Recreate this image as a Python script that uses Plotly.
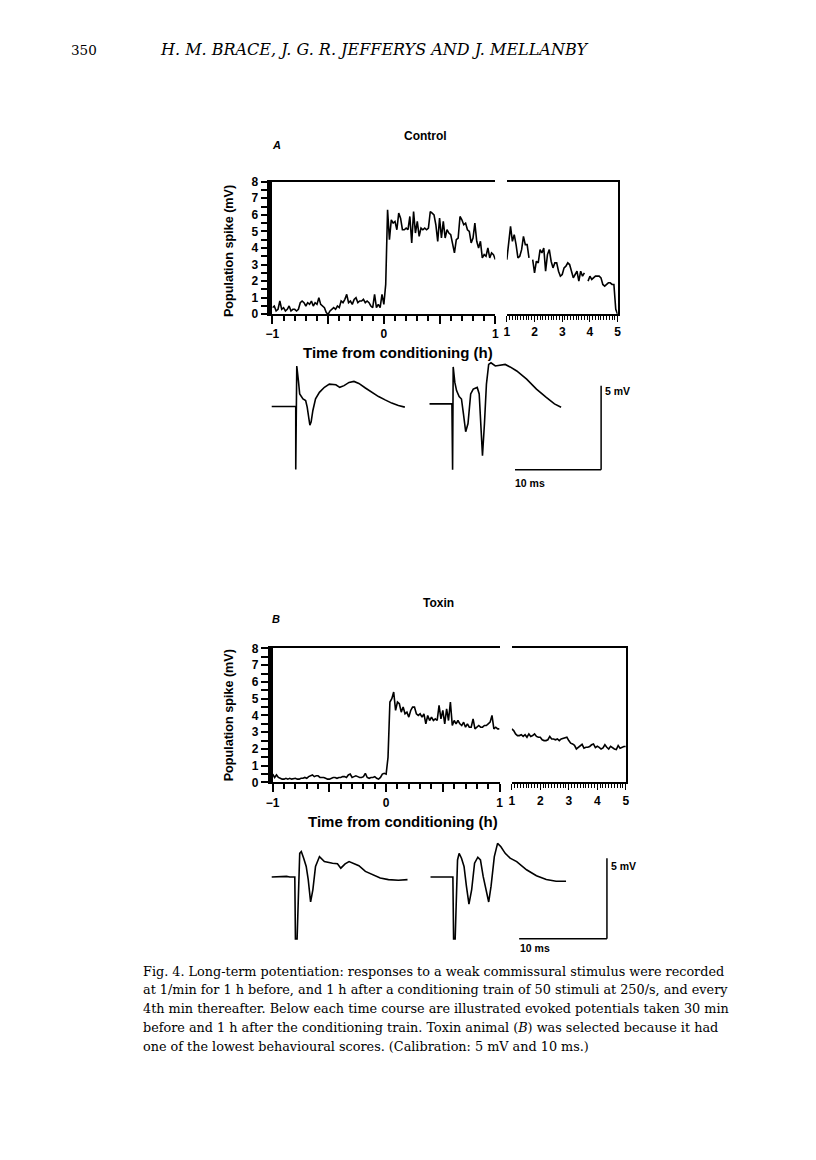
import plotly.graph_objects as go

# page is 816x1160; the html body adds an 8px margin, so the figure is a bit smaller
PAGE_W, PAGE_H = 816, 1160
OFF = 8
W, H = PAGE_W - 2 * OFF, PAGE_H - 2 * OFF

def fx(px):
    return (px - OFF) / W

def fy(py):
    return 1 - (py - OFF) / H

# ---- time course data (population spike, mV) ----
# 1/min for 1 h before and 1 h after conditioning (hours -1..1)
A_early = [0.4, 0.5, 0.2, 0.3, 0.8, 0.3, 0.4, 0.2, 0.3, 0.5, 0.2, 0.3, 0.3, 0.2, 0.3,
           0.7, 0.8, 0.7, 0.5, 0.7, 0.6, 0.8, 0.5, 0.7, 0.6, 1.0, 0.6, 0.5, 0.4, 0.1,
           0.0, 0.2, 0.3, 0.4, 0.3, 0.5, 0.4, 0.8, 0.7, 0.9, 1.2, 0.7, 0.8, 0.6, 0.9,
           1.0, 0.7, 0.8, 0.8, 0.9, 0.7, 0.8, 0.7, 0.5, 0.4, 1.2, 0.4, 0.6, 0.4, 1.2,
           0.6,
           1.8, 6.3, 4.5, 5.7, 5.5, 5.6, 5.1, 6.1, 5.8, 5.1, 5.1, 5.2, 5.1, 5.9, 4.3,
           6.2, 4.9, 5.6, 4.7, 5.2, 5.1, 5.2, 5.1, 5.2, 6.2, 6.1, 6.0, 5.4, 4.4, 5.8,
           4.6, 5.6, 4.6, 5.1, 4.9, 4.8, 4.2, 3.7, 4.5, 4.6, 5.9, 5.7, 5.4, 5.5, 5.1,
           5.0, 4.3, 4.6, 5.5, 4.4, 4.0, 4.4, 3.4, 3.6, 3.5, 4.0, 3.4, 3.7, 3.6, 3.3]
# every 4th min from 1 h to 5 h (None = missing samples)
A_late = [3.3, 4.2, 5.3, 4.4, 4.8, 4.2, 3.4, 3.5, 3.9, 4.7, 4.2, 4.2, 3.4, None,
          3.3, 2.5, 3.2, 3.1, 3.9, 3.7, 4.0, 2.6, 3.6, 3.9, 3.2, 2.8, 3.1, 3.1,
          2.6, 2.3, 2.4, 2.8, 2.9, 3.1, 3.0, 2.6, 2.2, 2.4, 2.6, 2.0, 2.6, 2.3,
          2.5, None, 2.0, 2.3, 2.1, 2.2, 2.3, 2.3, 2.3, 2.2, 1.8, 1.7, 1.8, 1.9,
          1.9, 1.8, 1.8, 0.3, 0.0]

B_early = [0.5, 0.3, 0.45, 0.3, 0.25, 0.2, 0.2, 0.25, 0.2, 0.25, 0.2, 0.22, 0.25, 0.2,
           0.2, 0.25, 0.25, 0.3, 0.25, 0.35, 0.4, 0.45, 0.35, 0.4, 0.4, 0.3, 0.3, 0.3,
           0.25, 0.2, 0.2, 0.25, 0.3, 0.3, 0.25, 0.3, 0.3, 0.35, 0.35, 0.3, 0.45, 0.5,
           0.3, 0.35, 0.4, 0.35, 0.3, 0.3, 0.35, 0.55, 0.3, 0.25, 0.3, 0.3, 0.35, 0.25,
           0.2, 0.3, 0.5, 0.55, 0.5,
           1.5, 4.8, 5.0, 5.4, 4.3, 4.8, 4.7, 4.2, 4.5, 4.1, 4.2, 3.9, 4.3, 4.5, 4.5,
           4.1, 4.0, 4.1, 3.9, 4.1, 3.5, 4.0, 3.7, 3.9, 3.7, 3.8, 3.7, 4.6, 3.8, 4.3,
           3.5, 4.4, 3.7, 4.8, 3.4, 3.7, 3.5, 3.7, 3.5, 3.4, 3.6, 3.3, 3.5, 3.3, 3.3,
           3.8, 3.2, 3.3, 3.4, 3.3, 3.3, 3.4, 3.4, 3.5, 3.6, 4.0, 3.2, 3.3, 3.2, 3.2]
B_late = [3.2, 3.1, 2.9, 2.8, 2.8, 2.85, 2.75, 2.85, 2.7, 2.9, 2.75, 2.8, 2.9, 2.75,
          2.7, 2.7, 2.55, 2.5, 2.5, 2.55, 2.75, 2.6, 2.6, 2.55, 2.6, 2.5, 2.6, 2.62,
          2.65, 2.7, 2.5, 2.35, 2.3, 2.22, 2.0, 2.1, 2.2, 2.28, 2.05, 2.1, 2.1, 2.15,
          2.25, 2.3, 2.08, 2.16, 2.1, 2.0, 2.06, 2.25, 2.1, 2.0, 2.16, 2.05, 2.0, 1.97,
          2.2, 2.05, 2.1, 2.15, 2.15]

# sample times in hours
t_early = [m / 60 for m in range(-60, 61)]
t_late = [1 + 4 * k / 60 for k in range(61)]

# ---- evoked potentials (time ms from sweep start, mV from baseline) ----
A1_t = [0, 2.79, 2.79, 2.91, 3.1, 3.25, 3.63, 3.94, 4.12, 4.28, 4.43, 4.58, 4.78, 5.09, 5.54,
        6.12, 6.69, 7.45, 7.9, 8.4, 8.98, 9.55, 10.12, 10.88, 11.65, 12.41, 13.17, 13.94,
        14.71, 15.46]
A1_v = [0, 0, -3.76, 2.41, 1.53, 0.74, 0.45, 0.35, -0.04, -0.73, -1.12, -0.92, -0.24, 0.45,
        0.84, 1.14, 1.33, 1.29, 1.14, 1.24, 1.43, 1.49, 1.37, 1.1, 0.84, 0.59, 0.39, 0.2,
        0.06, -0.04]
A2_t = [0, 2.6, 2.68, 2.75, 2.94, 3.14, 3.44, 3.71, 3.94, 4.2, 4.47, 4.78, 5.08, 5.54, 5.77,
        5.96, 6.15, 6.38, 6.61, 6.87, 7.14, 7.64, 8.21, 8.79, 9.36, 10.13, 11.28, 12.42,
        13.56, 14.51, 15.28]
A2_v = [0, 0, -3.92, 2.2, 1.28, 0.79, 0.43, 0.29, -0.59, -1.66, -1.17, 0.59, 0.88, 0.98,
        0.59, -1.17, -3.09, -1.17, 1.18, 2.35, 2.45, 2.26, 2.31, 2.35, 2.2, 1.96, 1.47, 0.88,
        0.39, 0.0, -0.2]
B1_t = [0, 1.69, 2.06, 2.63, 2.7, 2.89, 3.19, 3.37, 3.64, 3.93, 4.16, 4.43, 4.69, 4.99, 5.44,
        6.0, 6.93, 7.49, 7.87, 8.36, 8.81, 9.37, 9.93, 10.67, 11.43, 12.36, 13.3, 14.43, 15.47]
B1_v = [0, 0.04, 0, 0, -3.84, -3.84, 1.47, 1.58, 1.17, 0.66, -0.16, -1.55, -0.78, 0.66, 1.27,
        0.96, 0.86, 0.82, 0.55, 0.82, 0.96, 0.82, 0.7, 0.35, 0.15, -0.06, -0.16, -0.2, -0.16]
B2_t = [0, 2.25, 2.55, 2.63, 2.81, 3.08, 3.26, 3.53, 3.82, 4.09, 4.38, 4.69, 5.02, 5.39, 5.69,
        6.0, 6.37, 6.63, 6.9, 7.27, 7.64, 8.02, 8.51, 9.07, 9.82, 10.94, 12.07, 13.19, 14.31,
        15.44]
B2_v = [0, 0.04, 0, -3.84, -3.84, 1.06, 1.47, 1.17, 0.66, -0.57, -1.69, -0.78, 0.86, 1.23,
        1.06, 0.04, -0.98, -1.55, -0.57, 1.27, 2.09, 1.88, 1.47, 1.17, 0.96, 0.45, 0.08,
        -0.16, -0.26, -0.26]

# calibration bars
CAL_MS = 10
CAL_MV = 5

SANS = "Liberation Sans"
SERIF = "DejaVu Serif"
LW = 1.6

fig = go.Figure()
layout = dict(width=W, height=H, margin=dict(l=0, r=0, t=0, b=0),
              paper_bgcolor="white", plot_bgcolor="white", showlegend=False)
annotations = []
shapes = []


def add_panel(n, early, late, x0, x1, x2a, x2b, ybot, ytop):
    # n: axis index (panel uses axes n, n+1)
    xa, xb = "xaxis%d" % n, "xaxis%d" % (n + 1)
    ya, yb = "yaxis%d" % n, "yaxis%d" % (n + 1)
    tick_font = dict(family=SANS, size=12, color="black", weight="bold")
    layout[xa] = dict(domain=[fx(x0), fx(x1)], range=[-1, 1], anchor="y%d" % n,
                      showline=True, linewidth=1.5, linecolor="black", mirror=True,
                      showgrid=False, zeroline=False, ticks="outside", ticklen=8,
                      tickwidth=1.5, tickcolor="black",
                      tickvals=[-1, -0.5, 0, 0.5, 1], ticktext=["\u22121", "", "0", "", "1"],
                      tickfont=tick_font,
                      minor=dict(dtick=0.1, ticks="outside", ticklen=5, tickwidth=1.5,
                                 tickcolor="black", showgrid=False))
    layout[xb] = dict(domain=[fx(x2a), fx(x2b)], range=[1, 5], anchor="y%d" % (n + 1),
                      showline=True, linewidth=1.5, linecolor="black", mirror=True,
                      showgrid=False, zeroline=False, ticks="outside", ticklen=6,
                      tickwidth=1.2, tickcolor="black", tickvals=[1, 2, 3, 4, 5],
                      tickfont=tick_font,
                      minor=dict(dtick=0.1, ticks="outside", ticklen=3.5, tickwidth=1,
                                 tickcolor="black", showgrid=False))
    layout[ya] = dict(domain=[fy(ybot), fy(ytop)], range=[0, 8], anchor="x%d" % n,
                      showline=True, linewidth=4.5, linecolor="black",
                      showgrid=False, zeroline=False, ticks="outside", ticklen=7,
                      tickwidth=1.5, tickcolor="black", tickvals=list(range(9)),
                      tickfont=tick_font,
                      minor=dict(dtick=0.5, ticks="outside", ticklen=7, tickwidth=1.5,
                                 tickcolor="black", showgrid=False))
    layout[yb] = dict(domain=[fy(ybot), fy(ytop)], range=[0, 8], anchor="x%d" % (n + 1),
                      side="right", showline=True, linewidth=1.5, linecolor="black",
                      showgrid=False, zeroline=False, showticklabels=False, ticks="")
    fig.add_trace(go.Scatter(x=t_early, y=early, mode="lines", xaxis="x%d" % n, yaxis="y%d" % n,
                             line=dict(color="black", width=LW), connectgaps=False))
    fig.add_trace(go.Scatter(x=t_late, y=late, mode="lines", xaxis="x%d" % (n + 1),
                             yaxis="y%d" % (n + 1),
                             line=dict(color="black", width=LW), connectgaps=False))


def add_sweeps(n, s1, s2, start1, start2, base1, base2, pxms, pxmv, cal_t, cal_v):
    # two sweeps, each on its own hidden axes with the same ms / mV scale
    t_lo, t_hi1, t_hi2 = -0.5, 16, 22
    v_lo, v_hi = -4.6, 3.2
    for k, (t, v), start, base, thi in [(n, s1, start1, base1, t_hi1),
                                          (n + 1, s2, start2, base2, t_hi2)]:
        layout["xaxis%d" % k] = dict(domain=[fx(start + t_lo * pxms), fx(start + thi * pxms)],
                                     range=[t_lo, thi], visible=False, anchor="y%d" % k)
        layout["yaxis%d" % k] = dict(domain=[fy(base - v_lo * pxmv), fy(base - v_hi * pxmv)],
                                     range=[v_lo, v_hi], visible=False, anchor="x%d" % k)
        fig.add_trace(go.Scatter(x=t, y=v, mode="lines", xaxis="x%d" % k, yaxis="y%d" % k,
                                 line=dict(color="black", width=LW)))
    k = n + 1
    shapes.append(dict(type="line", xref="x%d" % k, yref="y%d" % k, x0=cal_t - CAL_MS, x1=cal_t,
                       y0=cal_v, y1=cal_v, line=dict(color="black", width=1.5)))
    shapes.append(dict(type="line", xref="x%d" % k, yref="y%d" % k, x0=cal_t, x1=cal_t,
                       y0=cal_v, y1=cal_v + CAL_MV, line=dict(color="black", width=1.5)))


# panel A
add_panel(1, A_early, A_late, 269, 495, 506.7, 619, 311, 176.7)
add_sweeps(3, (A1_t, A1_v), (A2_t, A2_v), 268.3, 428.3, 404.3, 401.7, 8.73, 17.0, 19.93, -3.92)
# panel B
add_panel(5, B_early, B_late, 269.3, 499.3, 511.7, 627.3, 785, 649.3)
add_sweeps(7, (B1_t, B1_v), (B2_t, B2_v), 268.3, 429.3, 880.7, 880.7, 8.9, 16.3, 20.1, -3.84)


def text(s, x, y, size, family=SANS, weight="normal", style="normal", xanchor="center", angle=0):
    annotations.append(dict(text=s, x=fx(x), y=fy(y), xref="paper", yref="paper",
                            xanchor=xanchor, yanchor="middle", showarrow=False, textangle=angle,
                            borderpad=0,
                            font=dict(family=family, size=size, color="black",
                                      weight=weight, style=style)))


text("350", 64, 43, 13.5, family=SERIF, xanchor="left")
text("H. M. BRACE, J. G. R. JEFFERYS AND J. MELLANBY", 154, 43, 16, family=SERIF,
     style="italic", xanchor="left")

for label, title, tx, ttl_y, lab_y, ycen, xt_x, xt_y in [
        ("A", "Control", 424, 131, 140, 247, 396, 350),
        ("B", "Toxin", 437, 603, 619, 717, 401, 824)]:
    text(title, tx, ttl_y, 12, weight="bold")
    text(label, 273, lab_y, 11, weight="bold", style="italic")
    text("Population spike (mV)", 225, ycen, 12.6, weight="bold", angle=-90)
    text("Time from conditioning (h)", xt_x, xt_y, 15, weight="bold")

text("5 mV", 605, 389, 10.5, weight="bold", xanchor="left")
text("10 ms", 530, 482, 10.5, weight="bold")
text("5 mV", 611, 870, 10.5, weight="bold", xanchor="left")
text("10 ms", 535, 953, 10.5, weight="bold")

caption = [
    "Fig. 4. Long-term potentiation: responses to a weak commissural stimulus were recorded",
    "at 1/min for 1 h before, and 1 h after a conditioning train of 50 stimuli at 250/s, and every",
    "4th min thereafter. Below each time course are illustrated evoked potentials taken 30 min",
    "before and 1 h after the conditioning train. Toxin animal (<i>B</i>) was selected because it had",
    "one of the lowest behavioural scores. (Calibration: 5 mV and 10 ms.)",
]
for i, line in enumerate(caption):
    text(line, 137, 976 + 19 * i, 12.8, family=SERIF, xanchor="left")

layout["annotations"] = annotations
layout["shapes"] = shapes
fig.update_layout(**layout)

fig.write_html("out.html")
